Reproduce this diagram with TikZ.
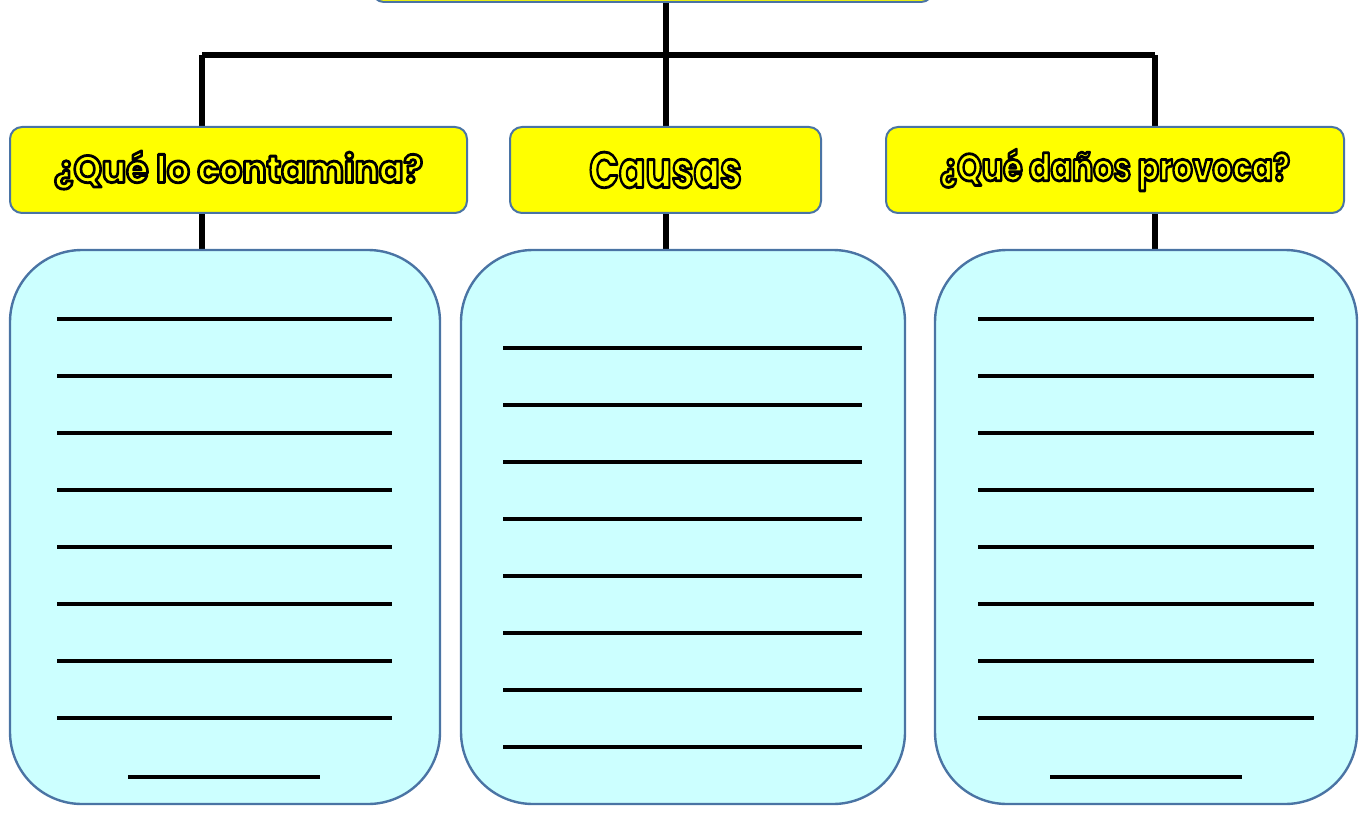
\documentclass[tikz,border=0pt]{standalone}
\usepackage{fontspec}
\setsansfont{Poppins}
\usepackage{xcolor}
\definecolor{HeadYellow}{HTML}{FFFF00}
\definecolor{BoxCyan}{HTML}{CCFFFF}
\definecolor{EdgeBlue}{HTML}{4A74A4}
\usepackage{graphicx}
\usepackage{tikz}
\usetikzlibrary{positioning,calc,backgrounds}

%% yellow letters with a black outline (pdf text render mode 2)
\newcommand{\headtext}[3]{{\color{HeadYellow}\fontsize{#1}{#1}\selectfont\sffamily\bfseries
  \special{pdf:literal 2 Tr 1.4 w 1 j 0 0 0 RG}\scalebox{#2}[1]{#3}\special{pdf:literal 0 Tr}}}

\begin{document}
\begin{tikzpicture}[x=0.5pt,y=-0.5pt,
  headbox/.style={draw=EdgeBlue, line width=1pt, fill=HeadYellow, rounded corners=6pt,
    inner sep=0pt, minimum height=43pt},
  listbox/.style={draw=EdgeBlue, line width=1.2pt, fill=BoxCyan, rounded corners=36pt,
    inner sep=0pt, minimum height=277pt},
  stem/.style={line width=3pt, black},
  writeline/.style={line width=2pt, black}]
  \useasboundingbox (0,0) rectangle (1369,818);
  %% title box (cut off at the top)
  \node[headbox, anchor=south, minimum width=280.5pt, minimum height=40pt] (top) at (652.5,3) {};
  %% question boxes
  \node[headbox, minimum width=228.5pt] (q1) at (238.5,170) {\headtext{19}{0.95}{¿Qué lo contamina?}};
  \node[headbox, minimum width=155.5pt] (q2) at (665.5,170) {\headtext{25}{0.78}{Causas}};
  \node[headbox, minimum width=229pt] (q3) at (1115,170) {\headtext{19}{0.83}{¿Qué daños provoca?}};
  %% answer boxes
  \node[listbox, minimum width=215pt] (b1) at (225,527) {};
  \node[listbox, minimum width=222pt] (b2) at (683,527) {};
  \node[listbox, minimum width=211pt] (b3) at (1146,527) {};
  %% junctions of the tree
  \coordinate (j1) at (202,55);
  \coordinate (j3) at (1155,55);
  %% connectors
  \begin{scope}[on background layer]
    \draw[stem] (top.south -| q2.north) -- (b2.north -| q2.north);
    \draw[stem] (j1) -- (j3);
    \draw[stem] (j1) -- (j1 |- b1.north);
    \draw[stem] (j3) -- (j3 |- b3.north);
  \end{scope}
  %% writing lines
  \foreach \k in {0,...,7} {
    \draw[writeline] (57,{319+57*\k}) -- (392,{319+57*\k});
    \draw[writeline] (503,{348+57*\k}) -- (862,{348+57*\k});
    \draw[writeline] (978,{319+57*\k}) -- (1314,{319+57*\k});
  }
  \draw[writeline] (128,777) -- (320,777);
  \draw[writeline] (1050,777) -- (1242,777);
\end{tikzpicture}
\end{document}
